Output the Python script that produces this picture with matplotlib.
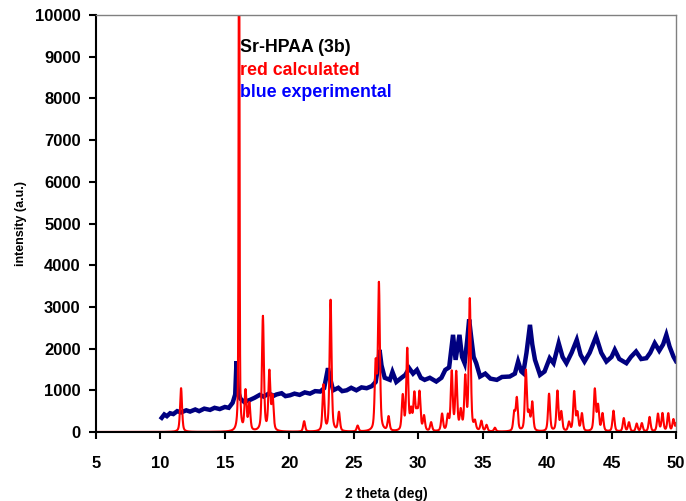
import matplotlib

matplotlib.use("Agg")
import matplotlib.pyplot as plt
import numpy as np

# calculated pattern: reflection positions (2 theta), peak heights
calc_pos = [11.6, 16.1, 16.6, 16.9, 17.95, 18.45, 18.7, 21.15, 22.65, 23.2,
            23.85, 25.3, 26.7, 26.95, 27.7, 28.8, 29.15, 29.45, 29.7, 29.9,
            30.1, 30.45, 31.0, 31.85, 32.3, 32.6, 32.95, 33.3, 33.65, 34.0,
            34.4, 34.9, 35.3, 35.95, 37.45, 37.65, 38.35, 38.6, 38.85, 40.15,
            40.8, 41.1, 41.7, 42.1, 42.35, 42.7, 43.7, 43.95, 44.3, 45.15,
            45.95, 46.35, 46.95, 47.35, 47.95, 48.6, 48.95, 49.4, 49.8, 50.1]
calc_int = [1050, 14000, 950, 650, 2750, 1400, 800, 250, 1100, 3150,
            450, 140, 1550, 3500, 340, 830, 1950, 450, 850, 380,
            900, 350, 210, 410, 350, 1400, 1380, 450, 1250, 3150,
            200, 240, 150, 90, 430, 780, 1450, 400, 680, 900,
            960, 450, 210, 940, 420, 420, 1000, 600, 420, 500,
            320, 220, 190, 200, 350, 420, 430, 430, 280, 400]
calc_fwhm = 0.18
calc_fwhm_main = 0.08   # the off-scale reflection at 16.1

exp_2theta = [10.1, 10.3, 10.5, 10.75, 11.0, 11.3, 11.6, 12.0, 12.3, 12.7,
              13.0, 13.4, 13.85, 14.2, 14.6, 15.0, 15.3, 15.6, 15.8, 15.9,
              16.0, 16.2, 16.5, 16.95, 17.3, 17.7, 18.0, 18.4, 18.8, 19.0,
              19.4, 19.7, 20.05, 20.4, 20.8, 21.2, 21.6, 22.0, 22.4, 22.7,
              23.0, 23.15, 23.4, 23.8, 24.1, 24.45, 24.8, 25.2, 25.6, 26.0,
              26.4, 26.7, 26.9, 27.0, 27.15, 27.4, 27.8, 28.0, 28.3, 28.7,
              29.0, 29.3, 29.6, 29.9, 30.2, 30.5, 30.9, 31.4, 31.8, 32.1,
              32.4, 32.7, 32.9, 33.2, 33.4, 33.6, 33.8, 33.95, 34.1, 34.3,
              34.5, 34.8, 35.2, 35.6, 36.1, 36.5, 37.1, 37.5, 37.75, 38.0,
              38.15, 38.4, 38.67, 38.85, 39.06, 39.45, 39.8, 40.2, 40.5, 40.9,
              41.2, 41.5, 41.9, 42.3, 42.6, 42.9, 43.3, 43.8, 44.2, 44.6,
              45.0, 45.25, 45.6, 46.15, 46.5, 46.9, 47.3, 47.7, 48.0, 48.35,
              48.7, 49.0, 49.25, 49.5, 49.8, 50.0]
exp_int = [340, 420, 380, 450, 430, 500, 470, 520, 490, 540,
           500, 560, 530, 580, 550, 600, 580, 700, 900, 1700,
           1000, 800, 720, 770, 820, 890, 850, 920, 870, 900,
           930, 860, 880, 920, 890, 950, 920, 980, 970, 1050,
           1530, 1300, 1000, 1060, 980, 1000, 1060, 1000, 1070, 1050,
           1100, 1200, 1600, 1970, 1600, 1300, 1250, 1440, 1200, 1300,
           1370, 1530, 1400, 1490, 1300, 1250, 1300, 1210, 1300, 1490,
           1550, 2330, 1730, 2330, 1800, 1650, 2200, 2700, 2300, 1800,
           1650, 1330, 1400, 1280, 1250, 1320, 1330, 1400, 1690, 1450,
           1410, 1900, 2570, 2100, 1730, 1370, 1450, 1770, 1650, 2130,
           1800, 1650, 1900, 2210, 1850, 1690, 1900, 2290, 1900, 1690,
           1800, 1970, 1750, 1650, 1800, 1930, 1750, 1770, 1900, 2130,
           1950, 2100, 2330, 2050, 1810, 1700]

x_ticks = [5, 10, 15, 20, 25, 30, 35, 40, 45, 50]
y_ticks = [0, 1000, 2000, 3000, 4000, 5000, 6000, 7000, 8000, 9000, 10000]


def pseudo_voigt(x, x0, h, fwhm, eta=0.5):
    s = fwhm / 2.0
    lor = 1.0 / (1.0 + ((x - x0) / s) ** 2)
    gau = np.exp(-np.log(2) * ((x - x0) / s) ** 2)
    return h * (eta * lor + (1 - eta) * gau)


tt = np.arange(5.0, 50.005, 0.01)
calc = np.zeros_like(tt)
for p, h in zip(calc_pos, calc_int):
    w = calc_fwhm_main if h > 10000 else calc_fwhm
    calc += pseudo_voigt(tt, p, h, w)

plt.rcParams["font.family"] = ["Liberation Sans", "DejaVu Sans"]
plt.rcParams["font.weight"] = "bold"

dpi = 100
fig = plt.figure(figsize=(6.86, 5.01), dpi=dpi)
ax = fig.add_axes((96 / 686, 1 - 432 / 501, 580 / 686, 417 / 501))

ax.plot(exp_2theta, exp_int, color="#000080", lw=3.2, solid_joinstyle="miter")
ax.plot(tt, calc, color="#FF0000", lw=1.5)

ax.set_xlim(5, 50)
ax.set_ylim(0, 10000)
ax.set_xticks(x_ticks)
ax.set_yticks(y_ticks)
ax.tick_params(direction="out", length=5, width=1.5, labelsize=12, pad=6)
for lab in ax.get_xticklabels() + ax.get_yticklabels():
    lab.set_fontweight("bold")
ax.tick_params(axis="x", pad=12)

for side in ("left", "bottom"):
    ax.spines[side].set_linewidth(1.5)
    ax.spines[side].set_color("black")
for side in ("top", "right"):
    ax.spines[side].set_linewidth(1.0)
    ax.spines[side].set_color("#808080")

ax.set_xlabel("2 theta (deg)", fontsize=10, fontweight="bold", labelpad=12)
ax.set_ylabel("intensity (a.u.)", fontsize=9, fontweight="bold", labelpad=6)

ax.text(16.15, 9210, "Sr-HPAA (3b)", color="black", fontsize=12.8, fontweight="bold", va="center")
ax.text(16.15, 8660, "red calculated", color="#FF0000", fontsize=12.8, fontweight="bold", va="center")
ax.text(16.15, 8130, "blue experimental", color="#0000FF", fontsize=12.8, fontweight="bold", va="center")

fig.savefig("out.png", dpi=dpi)
